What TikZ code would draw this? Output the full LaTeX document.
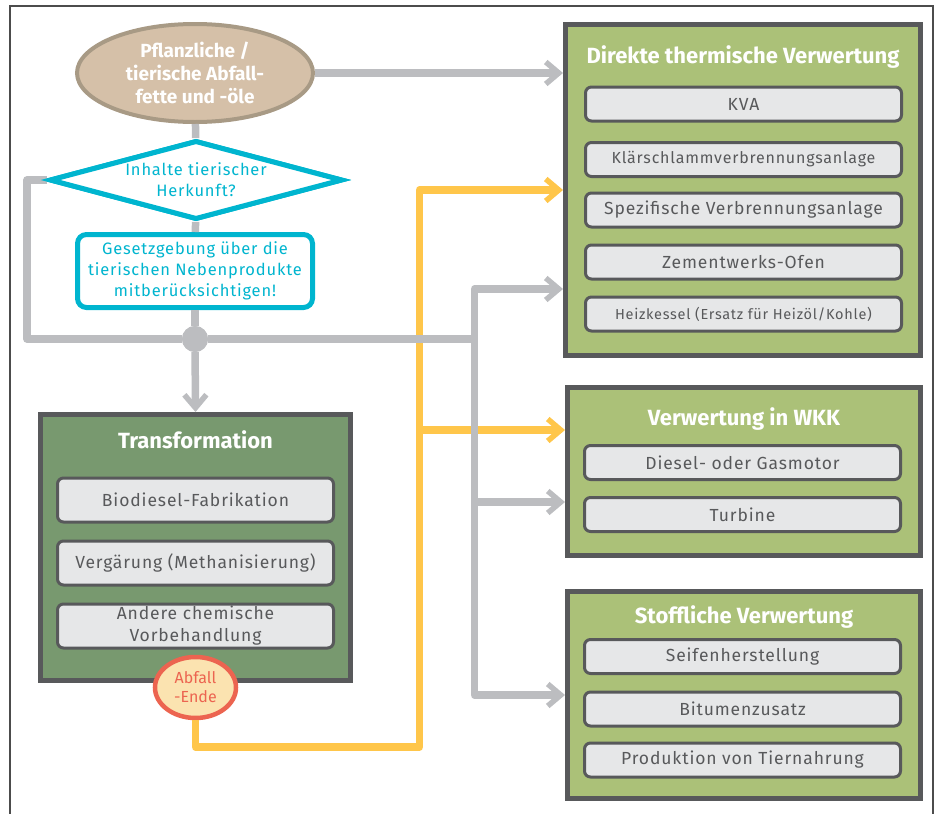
\documentclass[tikz,border=0pt]{standalone}
\usepackage{fontspec}
\setmainfont{Fira Sans}
\newfontfamily\itemfont[LetterSpace=5]{Fira Sans}
\usetikzlibrary{arrows.meta, shapes.geometric, positioning, calc}

\definecolor{lineGray}{HTML}{BCBDC0}
\definecolor{lineYellow}{HTML}{FFC64A}
\definecolor{cyanLine}{HTML}{00B5CF}
\definecolor{tanFill}{HTML}{D5C0A8}
\definecolor{tanLine}{HTML}{A89A85}
\definecolor{darkGreen}{HTML}{78996F}
\definecolor{lightGreen}{HTML}{ABC178}
\definecolor{boxLine}{HTML}{58595B}
\definecolor{itemFill}{HTML}{E6E7E8}
\definecolor{endFill}{HTML}{FBE3B0}
\definecolor{endLine}{HTML}{EC6450}

\tikzset{
  grayline/.style={draw=lineGray, line width=7.5pt},
  grayarrow/.style={grayline, -{Straight Barb[length=13pt,width=22pt,line width=5.5pt]}},
  yellowline/.style={draw=lineYellow, line width=7.5pt},
  yellowarrow/.style={yellowline, -{Straight Barb[length=13pt,width=22pt,line width=5.5pt]}},
  panel/.style={draw=boxLine, line width=5pt, fill=#1, inner sep=0pt},
  paneltitle/.style={text=white, font=\bfseries\fontsize{22}{25}\selectfont},
  item/.style={draw=boxLine, line width=3pt, fill=itemFill, rounded corners=6pt,
    text=boxLine, inner sep=0pt, minimum width=316pt, minimum height=34pt,
    align=center, font=\itemfont\fontsize{17.5}{20}\selectfont},
  cyanbox/.style={draw=cyanLine, line width=5pt, fill=white, text=cyanLine,
    align=center, inner sep=0pt, font=\itemfont\fontsize{16.5}{21}\selectfont},
}

\begin{document}
\begin{tikzpicture}[x=1pt,y=-1pt]
\useasboundingbox (0,0) rectangle (938,814);
\draw[black!70, line width=1.2pt] (10,814) |- (933,6) -- (933,814);

% start and check
\node[ellipse, draw=tanLine, line width=4pt, fill=tanFill, inner sep=0pt,
  minimum width=236pt, minimum height=98pt, text=white, align=center,
  font=\bfseries\fontsize{19}{23}\selectfont] (src) at (195,73)
  {Pflanzliche /\\tierische Abfall-\\fette und -öle};
\node[cyanbox, diamond, aspect=3.5, minimum width=293pt, minimum height=79pt]
  (dia) at (196,180) {Inhalte tierischer\\Herkunft?};
\node[cyanbox, rounded corners=9pt, minimum width=235pt, minimum height=73pt]
  (law) at (195,271) {Gesetzgebung über die\\tierischen Nebenprodukte\\mitberücksichtigen!};
\node[circle, fill=lineGray, inner sep=0pt, minimum size=26pt] (dot) at (195,339) {};

% transformation
\node[panel=darkGreen, minimum width=310pt, minimum height=266pt] (trf) at (195.5,547.5) {};
\node[paneltitle] (trfT) at (195.5,440) {Transformation};
\node[item, minimum width=276pt, minimum height=44pt] (bio) at (195.5,500) {Biodiesel-Fabrikation};
\node[item, minimum width=276pt, minimum height=44pt] (verg) at (195.5,563) {Vergärung (Methanisierung)};
\node[item, minimum width=276pt, minimum height=44pt, font=\itemfont\fontsize{17.5}{22}\selectfont] (chem) at (195.5,626)
  {Andere chemische\\Vorbehandlung};
\node[ellipse, draw=endLine, line width=4.5pt, fill=endFill, inner sep=0pt,
  minimum width=81pt, minimum height=61pt, text=endLine, align=center,
  font=\fontsize{16}{19}\selectfont] (abf) at (195.5,687.5) {Abfall\\-Ende};

% direkte thermische verwertung
\node[panel=lightGreen, minimum width=355pt, minimum height=331pt] (dtv) at (743,190) {};
\node[paneltitle] (dtvT) at (743,57) {Direkte thermische Verwertung};
\node[item] (kva) at (743.5,104) {KVA};
\node[item, font=\itemfont\fontsize{16}{18}\selectfont] (ksv) at (743.5,159.5) {Klärschlammverbrennungsanlage};
\node[item] (spv) at (743.5,210) {Spezifische Verbrennungsanlage};
\node[item] (zwo) at (743.5,262) {Zementwerks-Ofen};
\node[item, font=\itemfont\fontsize{14.5}{17}\selectfont] (hzk) at (743.5,314) {Heizkessel (Ersatz für Heizöl/Kohle)};

% wkk
\node[panel=lightGreen, minimum width=353pt, minimum height=168pt] (wkk) at (744,471.5) {};
\node[paneltitle] (wkkT) at (744,419) {Verwertung in WKK};
\node[item] (gas) at (742.5,462.5) {Diesel- oder Gasmotor};
\node[item] (tur) at (742.5,514.5) {Turbine};

% stoffliche verwertung
\node[panel=lightGreen, minimum width=353pt, minimum height=207pt] (stv) at (744,695) {};
\node[paneltitle] (stvT) at (744,617) {Stoffliche Verwertung};
\node[item] (sfh) at (742.5,656.5) {Seifenherstellung};
\node[item] (bit) at (742.5,709) {Bitumenzusatz};
\node[item] (tnr) at (742.5,760) {Produktion von Tiernahrung};

\coordinate (ybend) at (419.5,747);
\coordinate (ysplit) at (419.5,430);
\coordinate (gsplit) at (474.5,339);

% yellow path
\draw[yellowarrow, line join=round] (abf.south) |- (ybend) |- (dtv.west |- 0,190);
\draw[yellowarrow] (ysplit) -- (wkk.west |- ysplit);

% gray paths
\draw[grayarrow] (src) -- (dtv.west |- src);
\draw[grayline] (src) -- (dia);
\draw[grayline] (dia) -- (law);
\draw[grayline] (law) -- (dot);
\draw[grayline, line join=round] (dia.west) -- ++(-20,0) |- (dot);
\draw[grayline] (dot) -- (gsplit);
\draw[grayarrow] (dot) -- (trf.north);
\draw[grayarrow, line join=round] (gsplit) |- (dtv.west |- 0,289);
\draw[grayarrow, line join=round] (gsplit) |- (wkk.west |- 0,502);
\draw[grayarrow, line join=round] (gsplit) |- (stv.west |- 0,695);

% redraw nodes over connectors
\node[cyanbox, diamond, aspect=3.5, minimum width=293pt, minimum height=79pt]
  at (dia) {Inhalte tierischer\\Herkunft?};
\node[circle, fill=lineGray, inner sep=0pt, minimum size=26pt] at (dot) {};
\end{tikzpicture}
\end{document}
